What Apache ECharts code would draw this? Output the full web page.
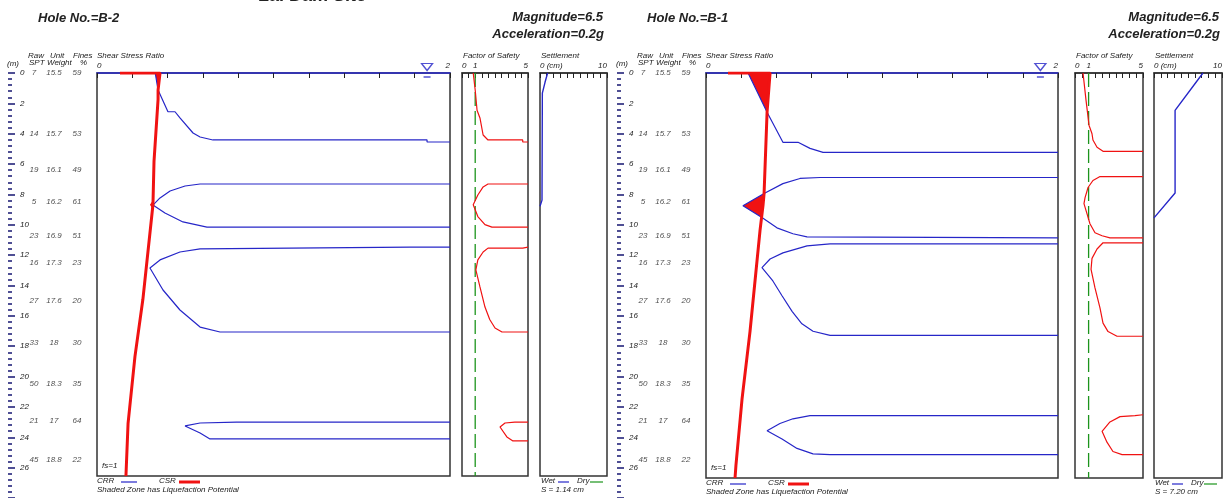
<!DOCTYPE html>
<html>
<head>
<meta charset="utf-8">
<title>Lal Dam Site</title>
<script src="https://cdn.jsdelivr.net/npm/echarts@6/dist/echarts.min.js"></script>
<style>
  html, body { margin: 0; padding: 0; background: #fff; }
  #chart { width: 1227px; height: 498px; }
</style>
</head>
<body>
<div id="chart"></div>
<script>
// soil log rows (same for both holes)
const soilDepth = [0, 4, 6.4, 8.5, 10.7, 12.5, 15, 17.8, 20.5, 22.9, 25.5]
const rawSpt = ['7', '14', '19', '5', '23', '16', '27', '33', '50', '21', '45']
const unitWeight = ['15.5', '15.7', '16.1', '16.2', '16.9', '17.3', '17.6', '18', '18.3', '17', '18.8']
const fines = ['59', '53', '49', '61', '51', '23', '20', '30', '35', '64', '22']

// Hole B-2 : [shear stress ratio, depth m]
const b2Csr = [[0.13, 0], [0.357, 0], [0.346, 1.1], [0.346, 1.7], [0.323, 5.7], [0.317, 8.5], [0.26, 14.6], [0.215, 18.3], [0.176, 22.6], [0.164, 26]]
const b2Crr1 = [[0.33, 0], [0.346, 1.1], [0.402, 2.5], [0.442, 2.5], [0.47, 2.9], [0.544, 3.87], [0.584, 4.13], [0.657, 4.32], [1.87, 4.32], [1.87, 4.45], [2, 4.45]]
const b2Crr2 = [[2, 7.16], [0.584, 7.16], [0.499, 7.29], [0.414, 7.61], [0.357, 8.06], [0.317, 8.52], [0.385, 9.03], [0.487, 9.61], [0.623, 9.94], [2, 9.94]]
const b2Crr3 = [[2, 11.23], [1.773, 11.23], [1.773, 11.35], [0.584, 11.35], [0.47, 11.55], [0.357, 12.06], [0.3, 12.58], [0.374, 14.0], [0.47, 15.29], [0.584, 16.39], [0.697, 16.71], [2, 16.71]]
const b2Crr4 = [[2, 22.52], [0.79, 22.52], [0.584, 22.58], [0.499, 22.77], [0.584, 23.23], [0.64, 23.61], [2, 23.61]]
const b2Zones = [[[0.33, 0], [0.357, 0], [0.346, 1.1]], [[0.3, 8.5], [0.318, 8.2], [0.317, 8.8]]]
// factor of safety [FS, depth]
const b2Fs1 = [[0.85, 0], [1.0, 1.1], [1.14, 2.4], [1.36, 2.9], [1.6, 4.0], [1.97, 4.32], [4.6, 4.32], [4.6, 4.45], [5, 4.45]]
const b2Fs2 = [[5, 7.16], [1.97, 7.16], [1.6, 7.35], [1.2, 7.87], [0.85, 8.5], [1.2, 9.26], [1.74, 9.78], [2.27, 9.94], [5, 9.94]]
const b2Fs3 = [[5, 11.23], [4.6, 11.3], [1.97, 11.3], [1.6, 11.55], [1.2, 12.06], [1.05, 12.7], [1.36, 13.8], [1.74, 15.1], [2.1, 15.9], [2.5, 16.45], [3.03, 16.71], [5, 16.71]]
const b2Fs4 = [[5, 22.52], [4.0, 22.52], [3.26, 22.58], [2.88, 22.84], [3.4, 23.48], [3.86, 23.74], [5, 23.74]]
// settlement [cm, depth]
const b2Settle = [[1.14, 0], [0.75, 0.6], [0.35, 1.3], [0.3, 8.2], [0, 8.6]]
const b2WaterTable = 1.87
const b2Total = 'S = 1.14 cm'

// Hole B-1
const b1Csr = [[0.125, 0], [0.364, 0], [0.347, 2.52], [0.33, 7.74], [0.324, 8.5], [0.307, 10.1], [0.25, 16.6], [0.205, 20.9], [0.17, 25.2], [0.165, 26]]
const b1Crr1 = [[0.239, 0], [0.347, 2.52], [0.38, 3.23], [0.437, 4.45], [0.523, 4.45], [0.591, 4.84], [0.665, 5.1], [2, 5.1]]
const b1Crr2 = [[2, 6.71], [0.648, 6.71], [0.534, 6.77], [0.437, 7.1], [0.33, 7.74], [0.21, 8.52], [0.32, 9.29], [0.403, 9.94], [0.494, 10.32], [0.574, 10.52], [2, 10.58]]
const b1Crr3 = [[2, 10.97], [0.705, 10.97], [0.574, 11.1], [0.437, 11.55], [0.364, 11.94], [0.318, 12.5], [0.38, 13.35], [0.432, 14.3], [0.489, 15.3], [0.545, 16.1], [0.608, 16.58], [0.705, 16.84], [2, 16.84]]
const b1Crr4 = [[2, 22.0], [0.591, 22.0], [0.494, 22.2], [0.42, 22.5], [0.347, 22.97], [0.432, 23.5], [0.517, 24.1], [0.608, 24.45], [0.705, 24.5], [2, 24.5]]
const b1Zones = [[[0.239, 0], [0.364, 0], [0.347, 2.52]], [[0.21, 8.52], [0.33, 7.74], [0.324, 8.5], [0.32, 9.29]]]
const b1Fs1 = [[0.59, 0], [0.81, 1.74], [1.03, 3.35], [1.25, 3.9], [1.32, 4.3], [1.62, 4.77], [2.06, 5.03], [5, 5.03]]
const b1Fs2 = [[5, 6.65], [1.84, 6.65], [1.32, 6.9], [0.96, 7.35], [0.74, 8.0], [0.66, 8.39], [0.88, 9.03], [1.1, 9.68], [1.47, 10.26], [1.99, 10.45], [2.57, 10.58], [5, 10.58]]
const b1Fs3 = [[5, 10.9], [2.06, 10.9], [1.62, 11.3], [1.25, 11.9], [1.18, 12.6], [1.47, 13.8], [1.84, 15.1], [2.06, 16.06], [2.43, 16.6], [3.09, 16.9], [5, 16.9]]
const b1Fs4 = [[5, 21.94], [4.41, 22.0], [3.31, 22.06], [2.57, 22.4], [1.99, 23.0], [2.35, 23.7], [2.79, 24.3], [3.46, 24.5], [5, 24.5]]
const b1Settle = [[7.2, 0], [3.1, 2.4], [3.1, 7.7], [0, 9.3]]
const b1WaterTable = 1.9
const b1Total = 'S = 7.20 cm'

const FONT = '"Liberation Sans", Arial, sans-serif'
const BLUE = '#2626c8'
const RED = '#f01212'
const GREEN = '#1c941c'
const INK = '#222'

const panels = [
  {
    hole: 'Hole No.=B-2', csr: b2Csr, crr: [b2Crr1, b2Crr2, b2Crr3, b2Crr4], zones: b2Zones,
    fs: [b2Fs1, b2Fs2, b2Fs3, b2Fs4], settle: b2Settle, wt: b2WaterTable, total: b2Total,
    dx: 0, tickX: 8, ssrX: 97, ssrW: 353, fsX: 462, fsW: 66, stX: 540, stW: 67, h: 403, magRight: 603
  },
  {
    hole: 'Hole No.=B-1', csr: b1Csr, crr: [b1Crr1, b1Crr2, b1Crr3, b1Crr4], zones: b1Zones,
    fs: [b1Fs1, b1Fs2, b1Fs3, b1Fs4], settle: b1Settle, wt: b1WaterTable, total: b1Total,
    dx: 609, tickX: 617, ssrX: 706, ssrW: 352, fsX: 1075, fsW: 68, stX: 1154, stW: 68, h: 405, magRight: 1219
  }
]

const TOP = 73
const small = { fontSize: 8, fontStyle: 'italic', fontFamily: FONT, color: INK }

const txt = (x, y, s, font, align) => ({
  type: 'text', x: x, y: y, silent: true,
  style: { text: s, font: font || 'italic 8px ' + FONT, fill: INK, align: align || 'left', verticalAlign: 'middle' }
})
const seg = (x1, y1, x2, y2, color, w) => ({
  type: 'line', silent: true,
  shape: { x1: x1, y1: y1, x2: x2, y2: y2 },
  style: { stroke: color, lineWidth: w }
})

const grid = [], xAxis = [], yAxis = [], series = [], graphic = []

// site title, cut off by the top edge like the scan
graphic.push(txt(258, -4, 'Lal Dam Site', 'bold 18px ' + FONT))

const topAxis = (gi, max, interval, labels, lineColor) => ({
  gridIndex: gi, type: 'value', position: 'top', min: 0, max: max, interval: interval,
  axisLine: { show: true, lineStyle: { color: lineColor, width: 1.5 } },
  axisTick: { show: true, inside: true, length: 5, lineStyle: { color: INK, width: 1 } },
  axisLabel: Object.assign({}, small, {
    margin: 3, alignMinLabel: 'left', alignMaxLabel: 'right',
    formatter: v => { const k = Math.round(v * 100) / 100; return labels[k] !== undefined ? labels[k] : '' }
  }),
  splitLine: { show: false }
})
const depthAxis = gi => ({ gridIndex: gi, type: 'value', min: 0, max: 26, inverse: true, show: false })

panels.forEach((p, i) => {
  const g = i * 4
  const pxPerM = p.h / 26
  const bottom = TOP + p.h
  const box = { show: true, borderColor: '#333', borderWidth: 1.5, top: TOP, height: p.h, containLabel: false }

  // depth scale + soil columns
  grid.push({ left: p.tickX, top: TOP, width: 87, height: pxPerM * 28 })
  xAxis.push({ gridIndex: g, type: 'value', min: 0, max: 87, show: false })
  yAxis.push({
    gridIndex: g, type: 'value', min: 0, max: 28, inverse: true, interval: 2,
    axisLine: { show: false },
    axisTick: { show: true, inside: true, length: 7, lineStyle: { color: '#23237a', width: 1.6 } },
    minorTick: { show: true, splitNumber: 5, length: 4, lineStyle: { color: '#23237a', width: 1.6 } },
    axisLabel: Object.assign({}, small, { inside: true, margin: 12, formatter: v => v > 26 ? '' : v }),
    splitLine: { show: false }
  })
  ;[[26, rawSpt], [46, unitWeight], [69, fines]].forEach(col => {
    series.push({
      type: 'scatter', xAxisIndex: g, yAxisIndex: g, symbolSize: 0, silent: true,
      data: soilDepth.map(d => [col[0], d]),
      label: Object.assign({}, small, {
        show: true, position: [0, 0], align: 'center', verticalAlign: 'middle',
        formatter: prm => col[1][prm.dataIndex]
      })
    })
  })

  // shear stress ratio
  grid.push(Object.assign({ left: p.ssrX, width: p.ssrW }, box))
  xAxis.push(topAxis(g + 1, 2, 0.2, { 0: '0', 2: '2' }, BLUE))
  yAxis.push(depthAxis(g + 1))
  series.push({
    type: 'custom', xAxisIndex: g + 1, yAxisIndex: g + 1, silent: true,
    data: p.zones.map((z, k) => k),
    renderItem: (params, api) => ({
      type: 'polygon',
      shape: { points: p.zones[params.dataIndex].map(pt => api.coord(pt)) },
      style: { fill: RED }
    })
  })
  p.crr.forEach(c => series.push({
    type: 'line', xAxisIndex: g + 1, yAxisIndex: g + 1, data: c, showSymbol: false, silent: true,
    lineStyle: { color: BLUE, width: 1.2 }
  }))
  series.push({
    type: 'line', xAxisIndex: g + 1, yAxisIndex: g + 1, data: p.csr, showSymbol: false, silent: true,
    lineStyle: { color: RED, width: 3 }
  })
  // water table marker
  series.push({
    type: 'scatter', xAxisIndex: g + 1, yAxisIndex: g + 1, data: [[p.wt, 0]], silent: true,
    symbol: 'triangle', symbolRotate: 180, symbolSize: [11, 7], symbolOffset: [0, -6], clip: false,
    itemStyle: { color: '#fff', borderColor: BLUE, borderWidth: 1.3 }
  })
  series.push({
    type: 'scatter', xAxisIndex: g + 1, yAxisIndex: g + 1, data: [[p.wt, 0]], silent: true,
    symbol: 'rect', symbolSize: [7, 1.5], symbolOffset: [0, 4], clip: false,
    itemStyle: { color: BLUE }
  })

  // factor of safety
  grid.push(Object.assign({ left: p.fsX, width: p.fsW }, box))
  xAxis.push(topAxis(g + 2, 5, 0.5, { 0: '0', 1: '1', 5: '5' }, '#333'))
  yAxis.push(depthAxis(g + 2))
  series.push({
    type: 'line', xAxisIndex: g + 2, yAxisIndex: g + 2, data: [[1, 0], [1, 26]], showSymbol: false, silent: true,
    lineStyle: { color: GREEN, width: 1.3, type: [14, 5] }
  })
  p.fs.forEach(c => series.push({
    type: 'line', xAxisIndex: g + 2, yAxisIndex: g + 2, data: c, showSymbol: false, silent: true,
    lineStyle: { color: RED, width: 1.2 }
  }))

  // settlement
  grid.push(Object.assign({ left: p.stX, width: p.stW }, box))
  xAxis.push(topAxis(g + 3, 10, 1, { 0: '0 (cm)', 10: '10' }, '#333'))
  yAxis.push(depthAxis(g + 3))
  series.push({
    type: 'line', xAxisIndex: g + 3, yAxisIndex: g + 3, data: p.settle, showSymbol: false, silent: true,
    lineStyle: { color: BLUE, width: 1.4 }
  })

  // texts
  const dx = p.dx
  graphic.push(txt(38 + dx, 18, p.hole, 'italic bold 13px ' + FONT))
  graphic.push(txt(p.magRight, 17, 'Magnitude=6.5', 'italic bold 13px ' + FONT, 'right'))
  graphic.push(txt(p.magRight + 1, 34, 'Acceleration=0.2g', 'italic bold 13px ' + FONT, 'right'))
  graphic.push(txt(28 + dx, 56, 'Raw'))
  graphic.push(txt(50 + dx, 56, 'Unit'))
  graphic.push(txt(73 + dx, 56, 'Fines'))
  graphic.push(txt(p.ssrX, 56, 'Shear Stress Ratio'))
  graphic.push(txt(p.tickX - 1, 64, '(m)'))
  graphic.push(txt(29 + dx, 63, 'SPT'))
  graphic.push(txt(47 + dx, 63, 'Weight'))
  graphic.push(txt(80 + dx, 63, '%'))
  graphic.push(txt(p.fsX + 1, 56, 'Factor of Safety'))
  graphic.push(txt(p.stX + 1, 56, 'Settlement'))
  graphic.push(txt(p.ssrX + 5, bottom - 10, 'fs=1'))
  graphic.push(txt(p.ssrX, bottom + 5, 'CRR'))
  graphic.push(seg(p.ssrX + 24, bottom + 6, p.ssrX + 40, bottom + 6, BLUE, 1.2))
  graphic.push(txt(p.ssrX + 62, bottom + 5, 'CSR'))
  graphic.push(seg(p.ssrX + 82, bottom + 6, p.ssrX + 103, bottom + 6, RED, 3))
  graphic.push(txt(p.ssrX, bottom + 14, 'Shaded Zone has Liquefaction Potential'))
  graphic.push(txt(p.stX + 1, bottom + 5, 'Wet'))
  graphic.push(seg(p.stX + 18, bottom + 6, p.stX + 29, bottom + 6, BLUE, 1.2))
  graphic.push(txt(p.stX + 37, bottom + 5, 'Dry'))
  graphic.push(seg(p.stX + 50, bottom + 6, p.stX + 63, bottom + 6, GREEN, 1.2))
  graphic.push(txt(p.stX + 1, bottom + 14, p.total))
})

const chart = echarts.init(document.getElementById('chart'))
chart.setOption({
  animation: false,
  backgroundColor: '#fff',
  grid: grid,
  xAxis: xAxis,
  yAxis: yAxis,
  series: series,
  graphic: graphic
})
</script>
</body>
</html>
